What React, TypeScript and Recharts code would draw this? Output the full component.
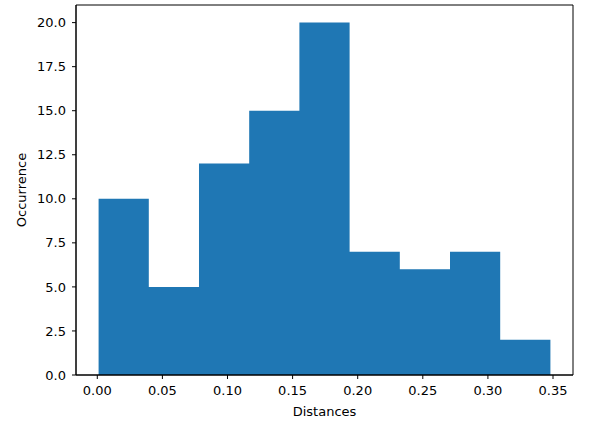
import React from 'react';
import { ComposedChart, XAxis, YAxis, ReferenceArea, Area, Label } from 'recharts';

const binEdges = [0.001, 0.03956, 0.07811, 0.11667, 0.15522, 0.19378, 0.23233, 0.27089, 0.30944, 0.348];
const counts = [10, 5, 12, 15, 20, 7, 6, 7, 2];
const xTicks = [0, 0.05, 0.1, 0.15, 0.2, 0.25, 0.3, 0.35];
const yTicks = [0, 2.5, 5, 7.5, 10, 12.5, 15, 17.5, 20];
const xDomain = [-0.01635, 0.36535];
const yDomain = [0, 21];

// step data: each bin edge carries the count of the bin starting there; last edge repeats the last count
const stepData = binEdges.map((e, i) => ({ x: e, count: counts[Math.min(i, counts.length - 1)] }));

const font = 'DejaVu Sans, sans-serif';
const tickStyle = { fill: '#000', fontSize: 13, fontFamily: font };

export default function App() {
  return (
    <div style={{ position: 'absolute', left: 0, top: 0 }}>
      <ComposedChart
        width={590}
        height={428}
        data={stepData}
        margin={{ top: 5, right: 17, bottom: 0, left: 0 }}
      >
        <XAxis
          type="number"
          dataKey="x"
          domain={xDomain}
          ticks={xTicks}
          tickFormatter={(v: number) => v.toFixed(2)}
          allowDataOverflow
          height={53}
          stroke="#000"
          tick={tickStyle}
          tickSize={4}
          tickMargin={7}
          tickLine={{ stroke: '#000' }}
          interval={0}
        >
          <Label value="Distances" position="insideBottom" offset={12} style={{ fill: '#000', fontSize: 13, fontFamily: font }} />
        </XAxis>
        <YAxis
          type="number"
          domain={yDomain}
          ticks={yTicks}
          tickFormatter={(v: number) => v.toFixed(1)}
          allowDataOverflow
          width={76}
          stroke="#000"
          tick={tickStyle}
          tickSize={4}
          tickMargin={6}
          tickLine={{ stroke: '#000' }}
          interval={0}
        >
          <Label value="Occurrence" angle={-90} position="insideLeft" offset={21} style={{ fill: '#000', fontSize: 13, fontFamily: font, textAnchor: 'middle' }} />
        </YAxis>
        <Area
          type="stepAfter"
          dataKey="count"
          fill="#1f77b4"
          fillOpacity={1}
          stroke="none"
          dot={false}
          activeDot={false}
          isAnimationActive={false}
        />
        <ReferenceArea
          x1={xDomain[0]}
          x2={xDomain[1]}
          y1={yDomain[0]}
          y2={yDomain[1]}
          fill="none"
          fillOpacity={0}
          stroke="#000"
          strokeWidth={1}
          strokeOpacity={1}
          ifOverflow="visible"
        />
      </ComposedChart>
    </div>
  );
}
